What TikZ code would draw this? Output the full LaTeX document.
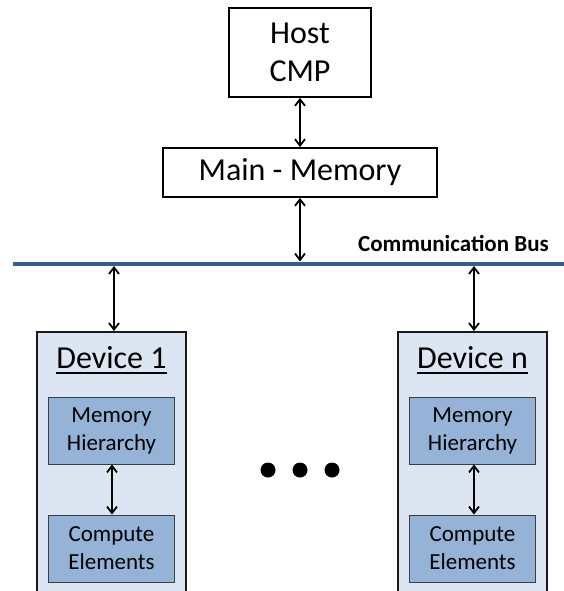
\documentclass[tikz,border=0pt]{standalone}
\usepackage{fontspec}
\setmainfont{Carlito}
\usetikzlibrary{arrows.meta}
\definecolor{busblue}{RGB}{56,93,138}
\definecolor{devfill}{RGB}{220,230,242}
\definecolor{unitfill}{RGB}{149,179,215}
\definecolor{unitedge}{RGB}{60,60,60}
\tikzset{
  barbtip/.tip={Straight Barb[length=6.5pt,width=10pt,line width=1.8pt]},
  box/.style={draw=black, line width=1.8pt, fill=white, inner sep=0pt, align=center,
    font=\fontsize{32}{38}\selectfont},
  device/.style={draw=black!90, line width=1.8pt, fill=devfill, inner sep=0pt},
  unit/.style={draw=unitedge, line width=0.9pt, fill=unitfill, inner sep=0pt, align=center,
    minimum width=126pt, minimum height=67pt, font=\fontsize{23}{28}\selectfont},
  link/.style={line width=1.9pt, barbtip-barbtip},
  title/.style={inner sep=0pt, anchor=base, font=\fontsize{32}{38}\selectfont}
}
\begin{document}
\begin{tikzpicture}[x=1pt, y=-1pt]
  \useasboundingbox (0,0) rectangle (563,591);

  % host processor and main memory
  \node[box, minimum width=142pt, minimum height=89pt] (host) at (300,52.5) {Host\\CMP};
  \node[box, minimum width=274pt, minimum height=49pt] (main) at (300,172.5) {Main - Memory};

  % communication bus
  \coordinate (busL) at (13,263.5);
  \coordinate (busR) at (565,263.5);
  \draw[busblue, line width=4pt] (busL) -- (busR);
  \node[inner sep=0pt, anchor=base east, font=\fontsize{23}{28}\selectfont\bfseries] (buslabel) at (549,251) {Communication Bus};

  % devices (they run past the lower edge)
  \node[device, minimum width=149pt, minimum height=280pt, anchor=north] (dev1) at (111.5,331) {};
  \node[device, minimum width=149pt, minimum height=280pt, anchor=north] (devn) at (472.5,331) {};

  \node[title] (t1) at (111.5,368) {Device 1};
  \node[title] (tn) at (472.5,368) {Device n};
  \draw[line width=1.5pt] ([yshift=-5pt]t1.base west) -- ([yshift=-5pt]t1.base east);
  \draw[line width=1.5pt] ([yshift=-5pt]tn.base west) -- ([yshift=-5pt]tn.base east);

  \node[unit] (mh1) at (111.5,430.5) {Memory\\Hierarchy};
  \node[unit] (ce1) at (111.5,548.5) {Compute\\Elements};
  \node[unit] (mhn) at (472.5,430.5) {Memory\\Hierarchy};
  \node[unit] (cen) at (472.5,548.5) {Compute\\Elements};

  % connections
  \coordinate (busM) at (300,261.5);
  \coordinate (bus1) at (114,266);
  \coordinate (busn) at (474,266);
  \draw[link] (host.south) -- (main.north);
  \draw[link] (main.south) -- (busM);
  \draw[link] (bus1) -- (bus1 |- dev1.north);
  \draw[link] (busn) -- (busn |- devn.north);
  \draw[link] ([xshift=0.5pt]mh1.south) -- ([xshift=0.5pt]ce1.north);
  \draw[link] ([xshift=1.5pt]mhn.south) -- ([xshift=1.5pt]cen.north);

  % ellipsis between the devices
  \foreach \dx/\nm in {268/d1, 300/d2, 332/d3}
    \fill (\dx,470) circle[radius=7.5pt] coordinate (\nm);
\end{tikzpicture}
\end{document}
